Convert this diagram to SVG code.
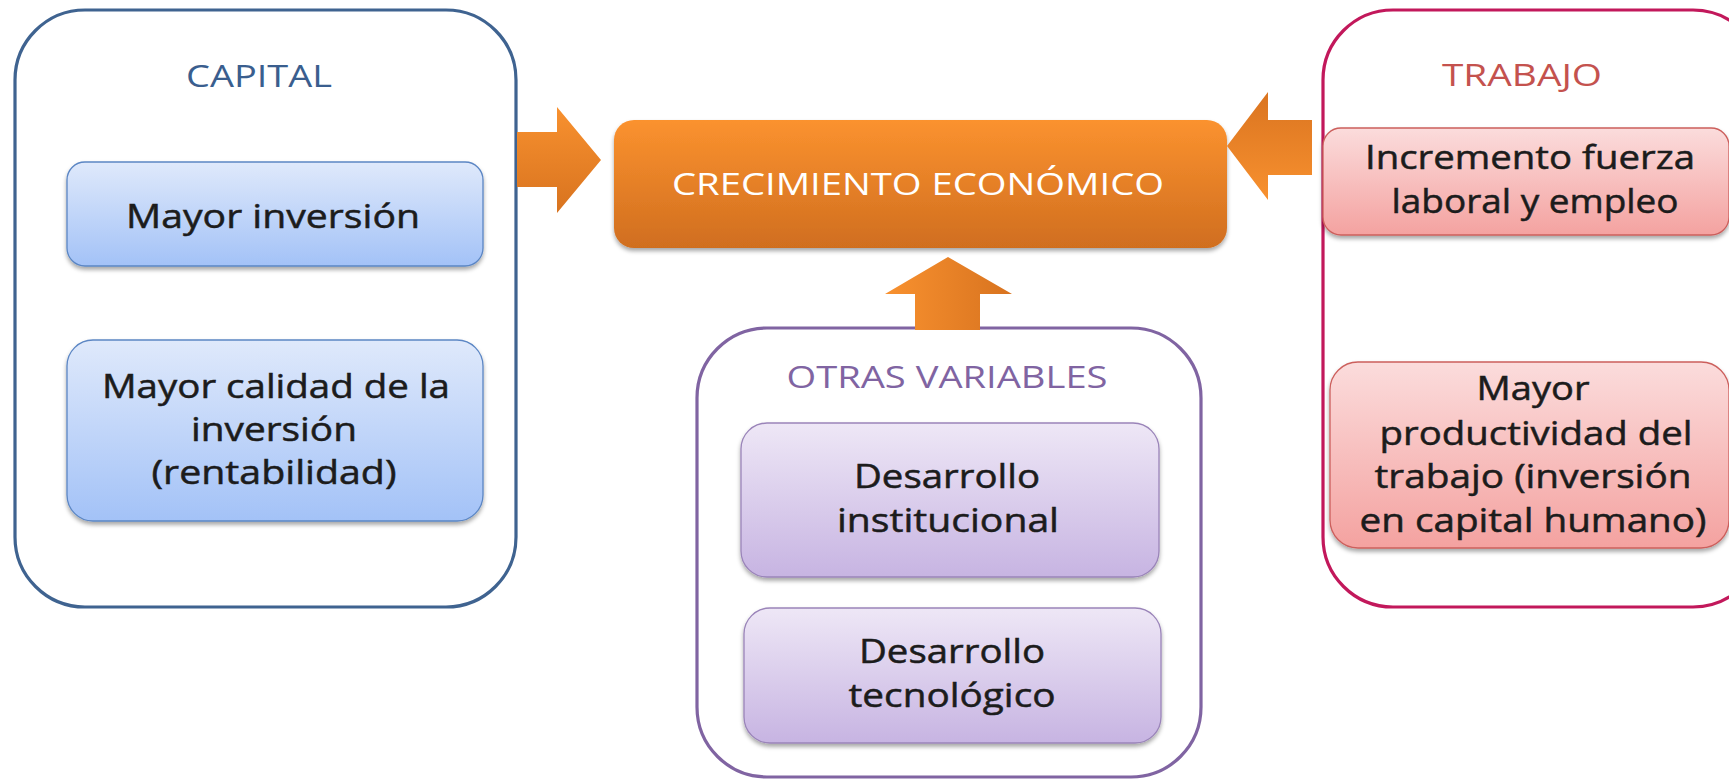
<svg xmlns="http://www.w3.org/2000/svg" width="1729" height="779" viewBox="0 0 1729 779">
<style>
  .cont { fill: #ffffff; stroke-width: 3.2; }
  .hdr { font-family: "Open Sans", "Liberation Sans", sans-serif; font-size: 31px; text-anchor: middle; }
  .lbl { font-family: "Open Sans", "Liberation Sans", sans-serif; font-size: 33px; text-anchor: middle; fill: #1c1c1c; stroke: #1c1c1c; stroke-width: 0.5; }
  .box { filter: url(#sh); }
</style>
<defs>
  <filter id="sh" x="-10%" y="-10%" width="120%" height="130%">
    <feDropShadow dx="0" dy="3" stdDeviation="2" flood-color="#000" flood-opacity="0.35"/>
  </filter>
  <linearGradient id="gBlue" x1="0" y1="0" x2="0" y2="1">
    <stop offset="0" stop-color="#dfe9fb"/>
    <stop offset="1" stop-color="#a3c2f7"/>
  </linearGradient>
  <linearGradient id="gRed" x1="0" y1="0" x2="0" y2="1">
    <stop offset="0" stop-color="#fbdcdc"/>
    <stop offset="1" stop-color="#f4a2a0"/>
  </linearGradient>
  <linearGradient id="gPur" x1="0" y1="0" x2="0" y2="1">
    <stop offset="0" stop-color="#eee7f6"/>
    <stop offset="1" stop-color="#c7b4e2"/>
  </linearGradient>
  <linearGradient id="gOr" x1="0" y1="0" x2="0" y2="1">
    <stop offset="0" stop-color="#fb922f"/>
    <stop offset="1" stop-color="#d06e1f"/>
  </linearGradient>
  <linearGradient id="gOrUp" x1="0" y1="0" x2="0" y2="1">
    <stop offset="0" stop-color="#f8912f"/>
    <stop offset="1" stop-color="#d8731f"/>
  </linearGradient>
  <linearGradient id="gOrDn" x1="0" y1="0" x2="0" y2="1">
    <stop offset="0" stop-color="#da7420"/>
    <stop offset="1" stop-color="#f8912f"/>
  </linearGradient>
  <linearGradient id="gOrH" x1="0" y1="0" x2="1" y2="0">
    <stop offset="0" stop-color="#f8912f"/>
    <stop offset="1" stop-color="#d8731f"/>
  </linearGradient>
</defs>

<g id="capital">
  <rect class="cont" x="15" y="10" width="501" height="597" rx="70" stroke="#3f6390"/>
  <text class="hdr" x="259" y="87" fill="#3a5e8e" textLength="146" lengthAdjust="spacingAndGlyphs">CAPITAL</text>
  <g id="mayor-inversion">
    <rect class="box" x="67" y="162" width="416" height="104" rx="18" fill="url(#gBlue)" stroke="#5b86c4" stroke-width="1.3"/>
    <text class="lbl" x="273" y="228" textLength="294" lengthAdjust="spacingAndGlyphs">Mayor inversión</text>
  </g>
  <g id="mayor-calidad">
    <rect class="box" x="67" y="340" width="416" height="181" rx="26" fill="url(#gBlue)" stroke="#5b86c4" stroke-width="1.3"/>
    <text class="lbl" x="276" y="398" textLength="348" lengthAdjust="spacingAndGlyphs">Mayor calidad de la</text>
    <text class="lbl" x="274" y="441" textLength="166" lengthAdjust="spacingAndGlyphs">inversión</text>
    <text class="lbl" x="274" y="484" textLength="245" lengthAdjust="spacingAndGlyphs">(rentabilidad)</text>
  </g>
</g>

<g id="trabajo">
  <rect class="cont" x="1323" y="10" width="440" height="597" rx="70" stroke="#c2185b"/>
  <text class="hdr" x="1522" y="86" fill="#c4524e" textLength="160" lengthAdjust="spacingAndGlyphs">TRABAJO</text>
  <g id="incremento">
    <rect class="box" x="1323" y="128" width="406" height="107" rx="18" fill="url(#gRed)" stroke="#cc5f5c" stroke-width="1.3"/>
    <text class="lbl" x="1530" y="169" textLength="330" lengthAdjust="spacingAndGlyphs">Incremento fuerza</text>
    <text class="lbl" x="1535" y="213" textLength="287" lengthAdjust="spacingAndGlyphs">laboral y empleo</text>
  </g>
  <g id="productividad">
    <rect class="box" x="1330" y="362" width="399" height="186" rx="28" fill="url(#gRed)" stroke="#cc5f5c" stroke-width="1.3"/>
    <text class="lbl" x="1533" y="400" textLength="113" lengthAdjust="spacingAndGlyphs">Mayor</text>
    <text class="lbl" x="1536" y="445" textLength="313" lengthAdjust="spacingAndGlyphs">productividad del</text>
    <text class="lbl" x="1533" y="488" textLength="317" lengthAdjust="spacingAndGlyphs">trabajo (inversión</text>
    <text class="lbl" x="1533" y="532" textLength="347" lengthAdjust="spacingAndGlyphs">en capital humano)</text>
  </g>
</g>

<g id="otras">
  <rect class="cont" x="697" y="328" width="504" height="449" rx="70" stroke="#8064a2"/>
  <text class="hdr" x="947" y="388" fill="#8064a2" textLength="321" lengthAdjust="spacingAndGlyphs">OTRAS VARIABLES</text>
  <g id="institucional">
    <rect class="box" x="741" y="423" width="418" height="154" rx="26" fill="url(#gPur)" stroke="#9a84b9" stroke-width="1.3"/>
    <text class="lbl" x="947" y="488" textLength="186" lengthAdjust="spacingAndGlyphs">Desarrollo</text>
    <text class="lbl" x="948" y="532" textLength="222" lengthAdjust="spacingAndGlyphs">institucional</text>
  </g>
  <g id="tecnologico">
    <rect class="box" x="744" y="608" width="417" height="135" rx="26" fill="url(#gPur)" stroke="#9a84b9" stroke-width="1.3"/>
    <text class="lbl" x="952" y="663" textLength="186" lengthAdjust="spacingAndGlyphs">Desarrollo</text>
    <text class="lbl" x="952" y="707" textLength="207" lengthAdjust="spacingAndGlyphs">tecnológico</text>
  </g>
</g>

<g id="crecimiento">
  <rect class="box" x="614" y="120" width="613" height="128" rx="20" fill="url(#gOr)"/>
  <text class="hdr" x="918" y="195" fill="#ffffff" textLength="492" lengthAdjust="spacingAndGlyphs">CRECIMIENTO ECONÓMICO</text>
</g>

<g id="connectors">
  <polygon points="517,132 557,132 557,107 601,160 557,213 557,187 517,187" fill="url(#gOrUp)"/>
  <polygon points="1312,120 1268,120 1268,92 1227,146 1268,200 1268,175 1312,175" fill="url(#gOrDn)"/>
  <polygon points="915,330 915,294 885,294 948,257 1012,294 980,294 980,330" fill="url(#gOrH)"/>
</g>
</svg>
